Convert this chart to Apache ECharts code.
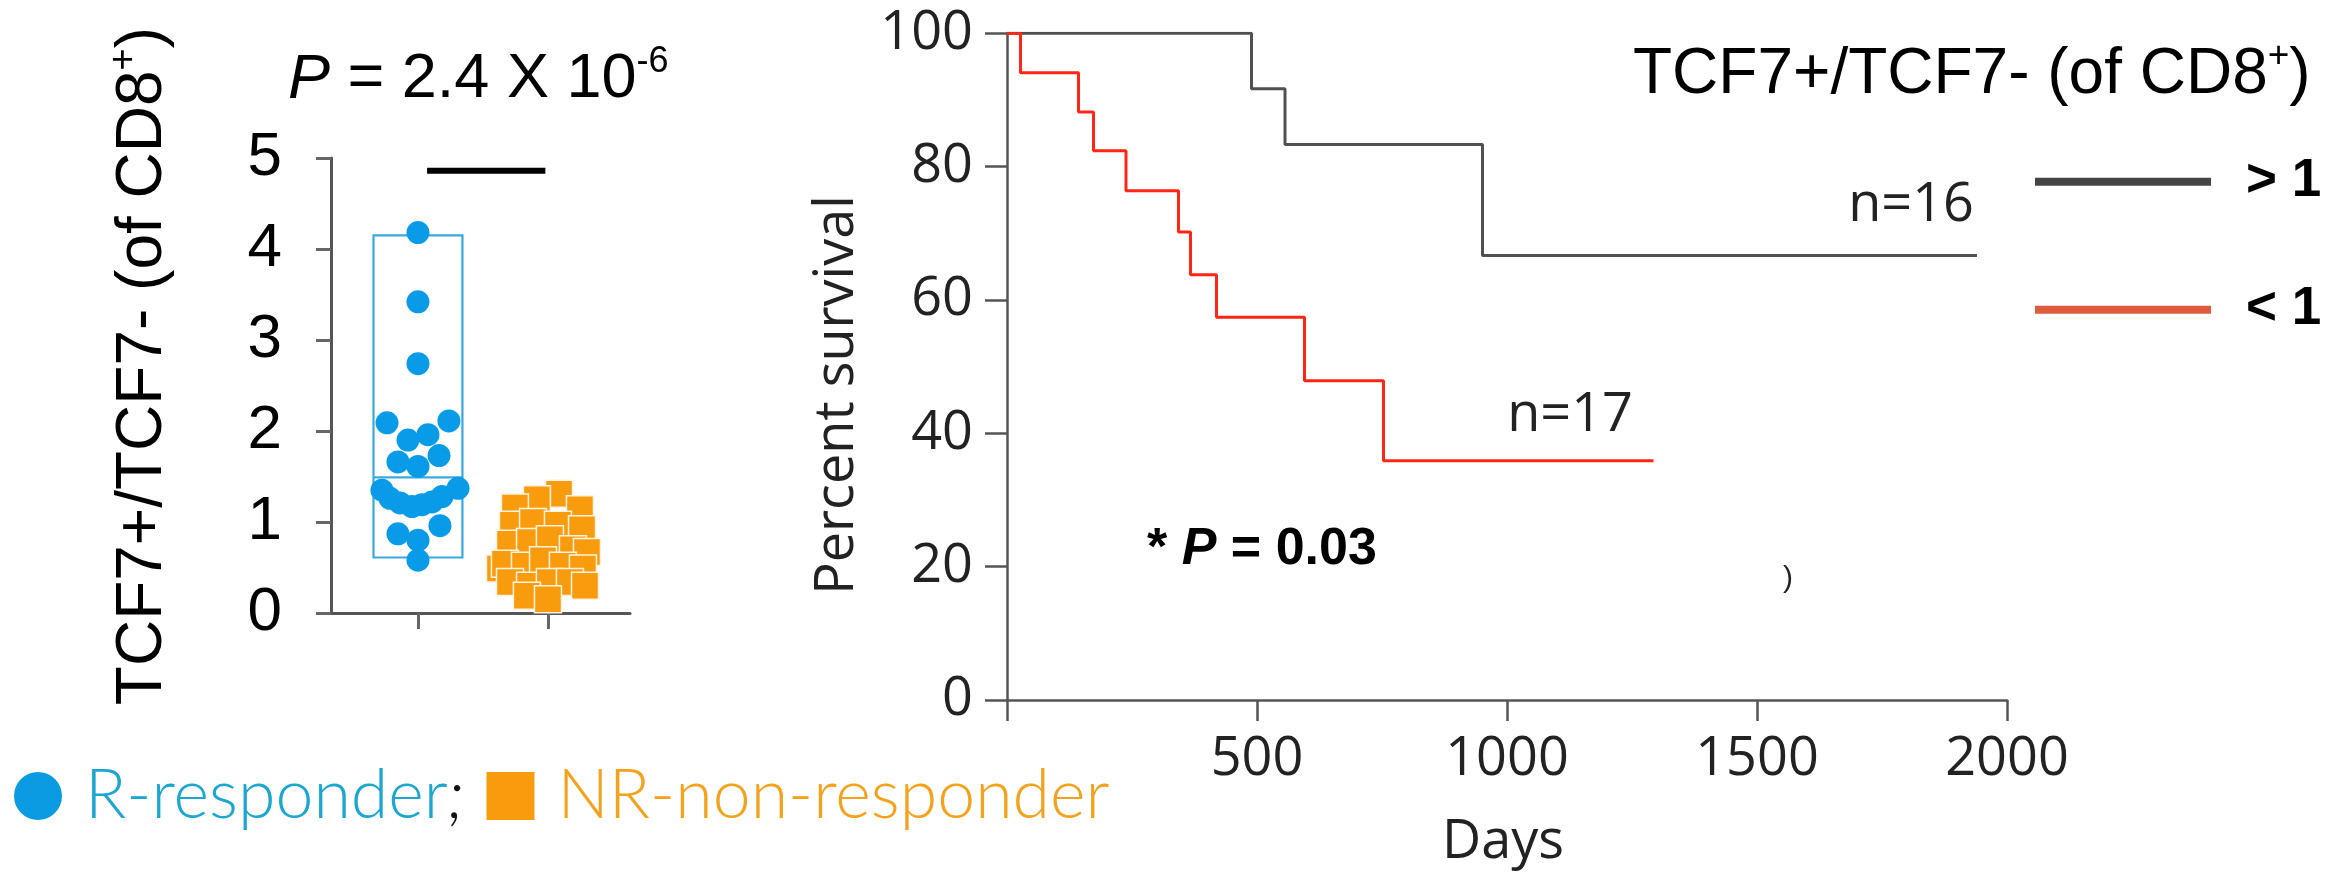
<!DOCTYPE html>
<html><head><meta charset="utf-8">
<script src="https://cdn.jsdelivr.net/npm/echarts@6/dist/echarts.min.js"></script>
<style>html,body{margin:0;padding:0;background:#fff}#c{width:2349px;height:872px}</style>
</head><body><div id="c"></div>
<script>
// ---------------- data ----------------
// Left panel: TCF7+/TCF7- ratio per patient (x = group position with jitter, 1 = R, 2 = NR)
const groupNames = ['R-responder', 'NR-non-responder'];
const respX = [1.0, 1.0, 1.0, 0.762, 1.238, 0.923, 1.077, 0.846, 1.162, 1.0,
               0.723, 0.785, 0.862, 0.954, 1.031, 1.108, 1.185, 1.308, 1.169, 0.846, 1.0, 1.0];
const respY = [4.18, 3.42, 2.74, 2.09, 2.11, 1.90, 1.96, 1.66, 1.73, 1.61,
               1.35, 1.26, 1.21, 1.17, 1.19, 1.22, 1.28, 1.37, 0.96, 0.87, 0.80, 0.58];
const nonRespX = [2.085, 1.915, 1.746, 2.246, 1.731, 1.885, 2.077, 2.262, 1.708, 1.862, 2.015, 2.192, 2.300,
                  1.631, 1.669, 1.823, 1.962, 2.115, 2.269, 1.708, 1.862, 2.015, 2.169, 2.285, 1.838, 2.000];
const nonRespY = [1.31, 1.25, 1.16, 1.14, 0.97, 1.00, 0.97, 0.92, 0.76, 0.78, 0.81, 0.70, 0.67,
                  0.49, 0.54, 0.52, 0.58, 0.52, 0.49, 0.34, 0.30, 0.34, 0.34, 0.30, 0.19, 0.15];
const boxLow = [0.61, 0.20];
const boxMedian = [1.49, 0.62];
const boxHigh = [4.15, 1.27];
const sigBarX = [1.07, 1.98];
const sigBarY = 4.86;

// Right panel: Kaplan-Meier curves (days, percent survival)
const kmHighName = '> 1';
const kmHighDays = [0, 489, 556, 951, 1940];
const kmHighSurv = [100, 91.67, 83.33, 66.67, 66.67];
const kmLowName = '< 1';
const kmLowDays = [0, 27, 143, 173, 238, 343, 367, 419, 595, 753, 1293];
const kmLowSurv = [100, 94.1, 88.2, 82.4, 76.4, 70.2, 63.8, 57.4, 47.9, 35.9, 35.9];

// ---------------- chart ----------------
const chart = echarts.init(document.getElementById('c'), null, {renderer: 'canvas'});
const ARIAL = 'Liberation Sans, Arial, sans-serif';
const SANS = 'Open Sans, sans-serif';
const LATO = 'Lato, sans-serif';
const boxColors = ['#38a9df', '#f6a53c'];

const option = {
  backgroundColor: '#ffffff',
  animation: false,
  grid: [
    {left: 331, top: 158, width: 299, height: 455, outerBoundsMode: 'none'},
    {left: 1007, top: 33.33, width: 1000, height: 666.67, outerBoundsMode: 'none'}
  ],
  xAxis: [
    {gridIndex: 0, type: 'value', min: 0.331, max: 2.631,
     axisLine: {show: true, onZero: false, lineStyle: {color: '#555', width: 3}},
     axisTick: {show: true, customValues: [1, 2], length: 16, lineStyle: {color: '#666', width: 3}},
     axisLabel: {show: false}, splitLine: {show: false}},
    {gridIndex: 1, type: 'value', min: 0, max: 2000, interval: 500,
     axisLine: {show: true, onZero: false, lineStyle: {color: '#555', width: 2.5}},
     axisTick: {show: true, length: 21, lineStyle: {color: '#555', width: 2.5}},
     axisLabel: {fontSize: 54, fontFamily: SANS, color: '#222', margin: 33,
                 formatter: v => (v === 0 ? '' : String(v))},
     splitLine: {show: false}}
  ],
  yAxis: [
    {gridIndex: 0, type: 'value', min: 0, max: 5, interval: 1,
     axisLine: {show: true, lineStyle: {color: '#555', width: 3}},
     axisTick: {show: true, length: 15, lineStyle: {color: '#666', width: 3}},
     axisLabel: {fontSize: 62, fontFamily: ARIAL, color: '#000', margin: 49, padding: [16, 0, 0, 0]},
     splitLine: {show: false}},
    {gridIndex: 1, type: 'value', min: 0, max: 100, interval: 20,
     axisLine: {show: true, lineStyle: {color: '#555', width: 2.5}},
     axisTick: {show: true, length: 22, lineStyle: {color: '#555', width: 2.5}},
     axisLabel: {fontSize: 54, fontFamily: SANS, color: '#222', margin: 34},
     splitLine: {show: false}}
  ],
  legend: [
    {left: 14, top: 762, orient: 'horizontal', itemWidth: 48, itemHeight: 48, itemGap: 22,
     selectedMode: false, padding: 0,
     data: [
       {name: groupNames[0], icon: 'circle', itemStyle: {color: '#0a9be3', borderWidth: 0}},
       {name: groupNames[1], icon: 'rect', itemStyle: {color: '#f89c0e', borderWidth: 0}}
     ],
     formatter: n => (n === groupNames[0] ? '{b|' + n + '}{k|;}' : '{o|' + n + '}'),
     textStyle: {fontFamily: LATO, fontSize: 68, fontWeight: 300, lineHeight: 68,
       padding: [0, 0, 0, 18],
       rich: {
         b: {fontFamily: LATO, fontSize: 68, fontWeight: 300, color: '#1ca6d2', lineHeight: 68},
         k: {fontFamily: LATO, fontSize: 68, fontWeight: 300, color: '#111', fontStyle: 'italic', lineHeight: 68},
         o: {fontFamily: LATO, fontSize: 68, fontWeight: 300, color: '#f4a21c', lineHeight: 68}
       }}},
    {left: 2035, top: 151.7, orient: 'vertical', itemWidth: 176, itemHeight: 8, itemGap: 68,
     selectedMode: false, padding: 0,
     data: [
       {name: kmHighName, icon: 'rect', itemStyle: {color: '#454545', borderWidth: 0}},
       {name: kmLowName, icon: 'rect', itemStyle: {color: '#e05a3c', borderWidth: 0}}
     ],
     textStyle: {fontFamily: ARIAL, fontSize: 53, fontWeight: 'bold', color: '#000', lineHeight: 60,
       padding: [0, 0, 0, 30]}}
  ],
  series: [
    {type: 'custom', name: 'box', xAxisIndex: 0, yAxisIndex: 0, z: 1,
     data: boxLow.map((v, i) => [i + 1, v, boxMedian[i], boxHigh[i]]),
     renderItem: function (params, api) {
       const x = api.value(0);
       const hw = 0.342;
       const col = boxColors[params.dataIndex];
       const a = api.coord([x - hw, api.value(3)]);
       const b = api.coord([x + hw, api.value(1)]);
       const m1 = api.coord([x - hw, api.value(2)]);
       const m2 = api.coord([x + hw, api.value(2)]);
       return {type: 'group', children: [
         {type: 'rect', shape: {x: a[0], y: a[1], width: b[0] - a[0], height: b[1] - a[1]},
          style: {fill: 'none', stroke: col, lineWidth: 2.2}},
         {type: 'line', shape: {x1: m1[0], y1: m1[1], x2: m2[0], y2: m2[1]},
          style: {stroke: col, lineWidth: 2.2}}
       ]};
     }},
    {type: 'scatter', name: groupNames[0], xAxisIndex: 0, yAxisIndex: 0, z: 3,
     symbol: 'circle', symbolSize: 23,
     itemStyle: {color: '#0a9be8', opacity: 1},
     data: respX.map((x, i) => [x, respY[i]])},
    {type: 'scatter', name: groupNames[1], xAxisIndex: 0, yAxisIndex: 0, z: 3,
     symbol: 'rect', symbolSize: 27,
     itemStyle: {color: '#f89c0e', opacity: 1, borderColor: '#fff3e0', borderWidth: 1.5},
     data: nonRespX.map((x, i) => [x, nonRespY[i]])},
    {type: 'line', name: 'sig', xAxisIndex: 0, yAxisIndex: 0, z: 3,
     symbol: 'none', lineStyle: {color: '#000', width: 6},
     data: sigBarX.map(x => [x, sigBarY])},
    {type: 'line', name: kmHighName, xAxisIndex: 1, yAxisIndex: 1, step: 'end', z: 2,
     symbol: 'none', lineStyle: {color: '#505050', width: 3}, itemStyle: {color: '#454545'},
     data: kmHighDays.map((d, i) => [d, kmHighSurv[i]])},
    {type: 'line', name: kmLowName, xAxisIndex: 1, yAxisIndex: 1, step: 'end', z: 3,
     symbol: 'none', lineStyle: {color: '#ff2616', width: 3}, itemStyle: {color: '#e05a3c'},
     data: kmLowDays.map((d, i) => [d, kmLowSurv[i]])}
  ],
  graphic: [
    {type: 'text', x: 143, y: 366, rotation: Math.PI / 2,
     style: {text: '{n|TCF7+/TCF7- (of CD8}{s|+}{n|)}', align: 'center', verticalAlign: 'middle',
       rich: {n: {fontSize: 64, fontFamily: ARIAL, fill: '#000', lineHeight: 74},
              s: {fontSize: 38, fontFamily: ARIAL, fill: '#000', lineHeight: 46, verticalAlign: 'top'}}}},
    {type: 'text', x: 288, y: 80,
     style: {text: '{i|P}{n| = 2.4 X 10}{s|-6}', align: 'left', verticalAlign: 'middle',
       rich: {i: {fontSize: 63, fontFamily: ARIAL, fontStyle: 'italic', fill: '#000', lineHeight: 72},
              n: {fontSize: 63, fontFamily: ARIAL, fill: '#000', lineHeight: 72},
              s: {fontSize: 36, fontFamily: ARIAL, fill: '#000', lineHeight: 52, verticalAlign: 'top'}}}},
    {type: 'text', x: 1633, y: 75,
     style: {text: '{n|TCF7+/TCF7- (of CD8}{s|+}{n|)}', align: 'left', verticalAlign: 'middle',
       rich: {n: {fontSize: 64, fontFamily: ARIAL, fill: '#000', lineHeight: 74},
              s: {fontSize: 37, fontFamily: ARIAL, fill: '#000', lineHeight: 58, verticalAlign: 'top'}}}},
    {type: 'text', x: 838, y: 395, rotation: Math.PI / 2,
     style: {text: 'Percent survival', fontSize: 54, fontFamily: SANS, fill: '#222',
             align: 'center', verticalAlign: 'middle'}},
    {type: 'text', x: 1503, y: 843,
     style: {text: 'Days', fontSize: 54, fontFamily: SANS, fill: '#222', align: 'center', verticalAlign: 'middle'}},
    {type: 'text', x: 1974, y: 206,
     style: {text: 'n=16', fontSize: 54, fontFamily: SANS, fill: '#222', align: 'right', verticalAlign: 'middle'}},
    {type: 'text', x: 1633, y: 416,
     style: {text: 'n=17', fontSize: 54, fontFamily: SANS, fill: '#222', align: 'right', verticalAlign: 'middle'}},
    {type: 'text', x: 1147, y: 550,
     style: {text: '{b|* }{bi|P}{b| = 0.03}', align: 'left', verticalAlign: 'middle',
       rich: {b: {fontSize: 52, fontFamily: ARIAL, fontWeight: 'bold', fill: '#000'},
              bi: {fontSize: 52, fontFamily: ARIAL, fontWeight: 'bold', fontStyle: 'italic', fill: '#000'}}}},
    {type: 'text', x: 1788, y: 579,
     style: {text: ')', fontSize: 30, fontFamily: ARIAL, fill: '#222', align: 'center', verticalAlign: 'middle'}}
  ]
};
chart.setOption(option);
</script>
</body></html>
